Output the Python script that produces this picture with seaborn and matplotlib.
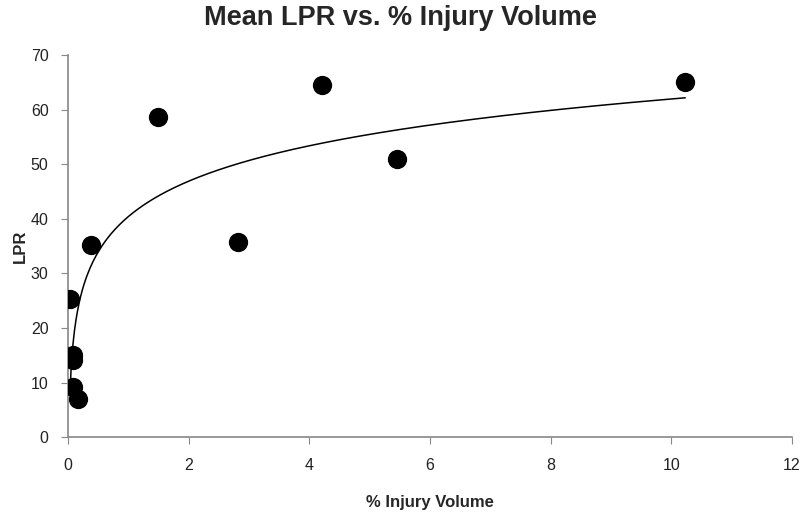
import numpy as np
import pandas as pd
import seaborn as sns
import matplotlib.pyplot as plt

# values
injury_volume = [0.03, 0.08, 0.09, 0.08, 0.17, 0.38, 1.49, 2.82, 4.21, 5.46, 10.23]
mean_lpr = [25.3, 15.0, 14.2, 9.2, 7.0, 35.2, 58.6, 35.8, 64.6, 50.9, 65.0]
x_ticks = [0, 2, 4, 6, 8, 10, 12]
y_ticks = [0, 10, 20, 30, 40, 50, 60, 70]

df = pd.DataFrame({"vol": injury_volume, "lpr": mean_lpr})

sns.set_style("white")
plt.rcParams['font.family'] = ['Liberation Sans Narrow', 'Liberation Sans', 'DejaVu Sans']

fig = plt.figure(figsize=(8, 5.16), dpi=100)
ax = fig.add_axes([0.085, 0.153, 0.905, 0.74])

# logarithmic trendline fitted to the data (Excel-style)
a, b = np.polyfit(np.log(df["vol"]), df["lpr"], 1)
xs = np.linspace(df["vol"].min(), df["vol"].max(), 400)
ax.plot(xs, a * np.log(xs) + b, color="black", lw=1.1, zorder=2)

sns.scatterplot(data=df, x="vol", y="lpr", ax=ax, color="black", s=165,
                edgecolor="black", zorder=3, legend=False)

ax.set_xlim(0, 12)
ax.set_ylim(0, 70)
ax.set_xticks(x_ticks)
ax.set_yticks(y_ticks)
for side in ["top", "right"]:
    ax.spines[side].set_visible(False)
for side in ["left", "bottom"]:
    ax.spines[side].set_color("#888888")
    ax.spines[side].set_linewidth(1.2)
ax.tick_params(axis="both", direction="out", length=5, color="#888888",
               labelsize=11.5, labelcolor="#222222", left=True, bottom=True)
ax.tick_params(axis="x", pad=10)
ax.tick_params(axis="y", pad=9)

ax.set_xlabel("% Injury Volume", fontsize=12, fontweight="bold", labelpad=16)
ax.set_ylabel("LPR", fontsize=12, fontweight="bold", labelpad=2)
fig.suptitle("Mean LPR vs. % Injury Volume", fontsize=19.5, fontweight="bold",
             x=0.5, y=0.99, va="top")

plt.savefig("out.png", dpi=100)
